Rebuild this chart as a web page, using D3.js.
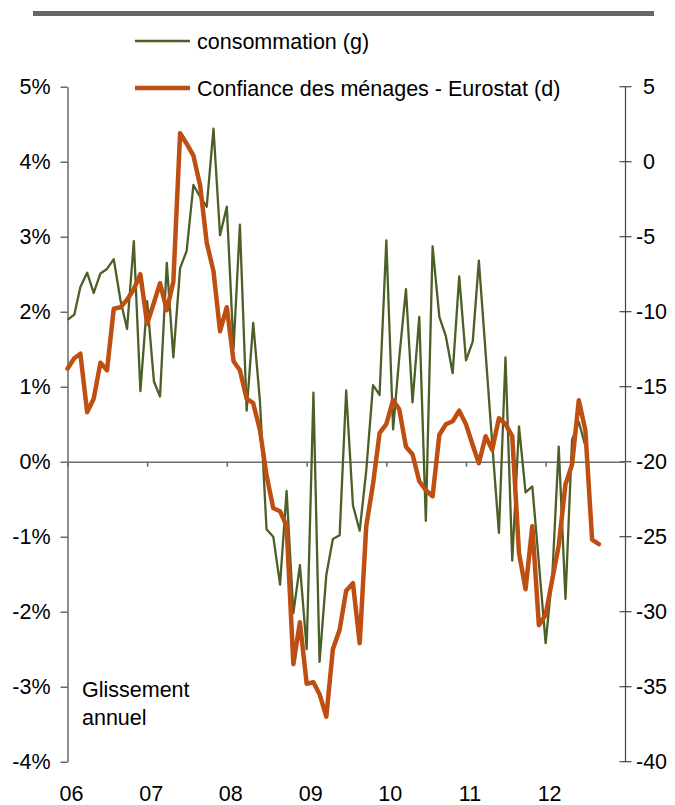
<!DOCTYPE html>
<html><head><meta charset="utf-8">
<script src="https://cdn.jsdelivr.net/npm/d3@7"></script>
<style>
body{margin:0;background:#fff}
svg{display:block;font-family:"Liberation Sans",Arial,sans-serif}
</style>
</head><body>
<svg id="c" width="675" height="805"></svg>
<script>
// Consommation, glissement annuel en % (axe gauche), mensuel depuis janvier 2006
const consommation = [
  1.89, 1.96, 2.33, 2.52, 2.25, 2.51, 2.57, 2.70, 2.15, 1.77, 2.94, 0.94,
  2.14, 1.07, 0.87, 2.65, 1.39, 2.58, 2.81, 3.69, 3.53, 3.40, 4.44, 3.02,
  3.40, 1.51, 3.16, 0.68, 1.85, 0.80, -0.90, -1.00, -1.64, -0.39, -2.02, -1.38,
  -2.50, 0.92, -2.67, -1.51, -1.03, -0.98, 0.95, -0.58, -0.92, -0.12, 1.02, 0.89,
  2.95, 0.43, 1.38, 2.30, 0.79, 1.93, -0.79, 2.87, 1.93, 1.67, 1.18, 2.47,
  1.35, 1.60, 2.68, 1.45, 0.25, -0.95, 1.39, -1.32, 0.47, -0.41, -0.33, -1.35,
  -2.42, -1.50, 0.20, -1.83, 0.29, 0.53, 0.21
];
// Confiance des ménages - Eurostat (axe droit), mensuel depuis janvier 2006
const confiance = [
  -13.8, -13.1, -12.8, -16.7, -15.8, -13.4, -13.9, -9.8, -9.7, -9.2, -8.5, -7.5,
  -10.8, -9.4, -8.1, -9.9, -8.0, 1.9, 1.2, 0.4, -1.6, -5.4, -7.3, -11.3,
  -9.7, -13.3, -13.9, -15.8, -16.1, -17.9, -20.9, -23.1, -23.3, -24.3, -33.5, -30.7,
  -34.8, -34.7, -35.5, -37.0, -32.5, -31.2, -28.6, -28.1, -32.1, -24.3, -21.5, -18.1,
  -17.5, -15.9, -16.5, -19.0, -19.5, -21.3, -21.9, -22.3, -18.2, -17.5, -17.3, -16.6,
  -17.5, -18.9, -20.1, -18.3, -19.2, -17.1, -17.5, -18.3, -26.1, -28.5, -24.3, -30.9,
  -30.2, -27.8, -25.6, -21.5, -20.2, -15.9, -17.9, -25.2, -25.5
];
const firstMonth = "2006-01";
const yearLabels = ["06", "07", "08", "09", "10", "11", "12"];
const leftTicks = [5, 4, 3, 2, 1, 0, -1, -2, -3, -4];
const rightTicks = [5, 0, -5, -10, -15, -20, -25, -30, -35, -40];
const seriesNames = ["consommation (g)", "Confiance des ménages - Eurostat (d)"];
const noteLines = ["Glissement", "annuel"];

const GREEN = "#4B5F27", ORANGE = "#BF4E12", FS = 21.5;
const svg = d3.select("#c");
const start = d3.timeParse("%Y-%m")(firstMonth);
const dateOf = i => d3.timeMonth.offset(start, i);

const x = d3.scaleTime().domain([start, d3.timeYear.offset(start, 7)]).range([67.5, 625.5]);
const yL = d3.scaleLinear().domain([-4, 5]).range([761.7, 86.7]);
const yR = d3.scaleLinear().domain([-40, 5]).range([761.7, 86.7]);

// top rule
svg.append("rect").attr("x", 33).attr("y", 11).attr("width", 621).attr("height", 5).attr("fill", "#666");

// left axis
const gL = svg.append("g").attr("transform", `translate(${x.range()[0]},0)`)
  .call(d3.axisLeft(yL).tickValues(leftTicks).tickFormat(d => d + "%").tickSize(7).tickPadding(10).tickSizeOuter(0));
gL.selectAll("path,line").attr("stroke", "#444").attr("stroke-width", 1.2);
gL.selectAll("text").attr("font-size", FS).attr("fill", "#000").attr("font-family", "Liberation Sans, Arial, sans-serif");

// right axis (ticks crossing)
const xr = x.range()[1];
svg.append("line").attr("x1", xr).attr("x2", xr).attr("y1", yR.range()[1]).attr("y2", yR.range()[0])
  .attr("stroke", "#444").attr("stroke-width", 1.2);
svg.append("g").selectAll("line").data(rightTicks).join("line")
  .attr("x1", xr - 6).attr("x2", xr + 6).attr("y1", d => yR(d)).attr("y2", d => yR(d))
  .attr("stroke", "#444").attr("stroke-width", 1.2);
svg.append("g").selectAll("text").data(rightTicks).join("text")
  .attr("x", d => xr + 10.5 + (d >= 0 ? 7 : 0)).attr("y", d => yR(d)).attr("dy", "0.35em")
  .attr("font-size", FS).text(d => d);

// x axis on zero line
const years = d3.timeYear.range(start, d3.timeYear.offset(start, 7));
const gX = svg.append("g").attr("transform", `translate(0,${yL(0)})`)
  .call(d3.axisBottom(x).tickValues(years).tickSize(5).tickFormat("").tickSizeOuter(0));
gX.selectAll("path,line").attr("stroke", "#6e6e6e").attr("stroke-width", 1.6);

svg.append("g").selectAll("text").data(yearLabels).join("text")
  .attr("x", (d, i) => x(years[i]) + 4).attr("y", 801).attr("text-anchor", "middle")
  .attr("font-size", FS).text(d => d);

// series
const lineL = d3.line().x((d, i) => x(dateOf(i))).y(d => yL(d));
const lineR = d3.line().x((d, i) => x(dateOf(i))).y(d => yR(d));
svg.append("path").datum(consommation).attr("d", lineL).attr("fill", "none")
  .attr("stroke", GREEN).attr("stroke-width", 2.3).attr("stroke-linejoin", "round");
svg.append("path").datum(confiance).attr("d", lineR).attr("fill", "none")
  .attr("stroke", ORANGE).attr("stroke-width", 4.5).attr("stroke-linejoin", "round").attr("stroke-linecap", "round");

// legend
const leg = [{name: seriesNames[0], color: GREEN, w: 2.3, y: 41}, {name: seriesNames[1], color: ORANGE, w: 4.5, y: 88}];
const lg = svg.append("g").selectAll("g").data(leg).join("g");
lg.append("line").attr("x1", 135).attr("x2", 190).attr("y1", d => d.y).attr("y2", d => d.y)
  .attr("stroke", d => d.color).attr("stroke-width", d => d.w);
lg.append("text").attr("x", 197).attr("y", d => d.y).attr("dy", "0.36em").attr("font-size", FS).text(d => d.name);

// note
svg.append("g").selectAll("text").data(noteLines).join("text")
  .attr("x", 82).attr("y", (d, i) => 697 + i * 28).attr("font-size", FS).text(d => d);
</script>
</body></html>
